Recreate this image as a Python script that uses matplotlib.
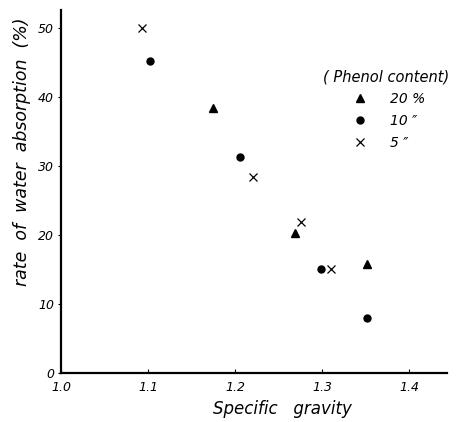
import matplotlib.pyplot as plt

# specific gravity vs rate of water absorption, by phenol content
sg_20 = [1.175, 1.269, 1.351]
wa_20 = [38.4, 20.3, 15.8]
sg_10 = [1.102, 1.205, 1.298, 1.351]
wa_10 = [45.2, 31.3, 15.1, 8.0]
sg_5 = [1.093, 1.221, 1.275, 1.310]
wa_5 = [50.0, 28.4, 21.9, 15.1]

x_ticks = [1.0, 1.1, 1.2, 1.3, 1.4]
x_tick_labels = ['1.0', '1.1', '1.2', '1.3', '1.4']
y_ticks = [0, 10, 20, 30, 40, 50]

fig = plt.figure(figsize=(4.65, 4.22), dpi=100)
ax = fig.add_axes([0.131, 0.116, 0.83, 0.86])

ax.plot(sg_20, wa_20, '^', color='black', markersize=6, linestyle='none', label='20 %')
ax.plot(sg_10, wa_10, 'o', color='black', markersize=5, linestyle='none', label='10 ″')
ax.plot(sg_5, wa_5, 'x', color='black', markersize=6, markeredgewidth=0.9, linestyle='none', label='5 ″')

ax.set_xlim(1.0, 1.443)
ax.set_ylim(0, 52.6)
ax.set_xticks(x_ticks)
ax.set_xticklabels(x_tick_labels)
ax.set_yticks(y_ticks)

for side in ['top', 'right']:
    ax.spines[side].set_visible(False)
for side in ['left', 'bottom']:
    ax.spines[side].set_linewidth(1.6)

ax.tick_params(axis='x', direction='in', length=3, width=0.8, pad=6)
ax.tick_params(axis='y', direction='out', length=2, width=0.8, pad=3)
for lab in ax.get_xticklabels() + ax.get_yticklabels():
    lab.set_fontstyle('italic')
    lab.set_fontsize(9)

ax.set_xlabel('Specific   gravity', fontsize=12, fontstyle='italic')
ax.xaxis.set_label_coords(0.575, -0.075)
ax.set_ylabel('rate  of  water  absorption  (%)', fontsize=12.5, fontstyle='italic')
ax.yaxis.set_label_coords(-0.078, 0.61)

leg = ax.legend(title='( Phenol content)', loc='upper left', bbox_to_anchor=(0.66, 0.855),
                frameon=False, fontsize=10, title_fontsize=10.5,
                handletextpad=1.2, labelspacing=0.55, borderpad=0)
leg.get_title().set_fontstyle('italic')
for t in leg.get_texts():
    t.set_fontstyle('italic')

fig.savefig('out.png', dpi=100)
